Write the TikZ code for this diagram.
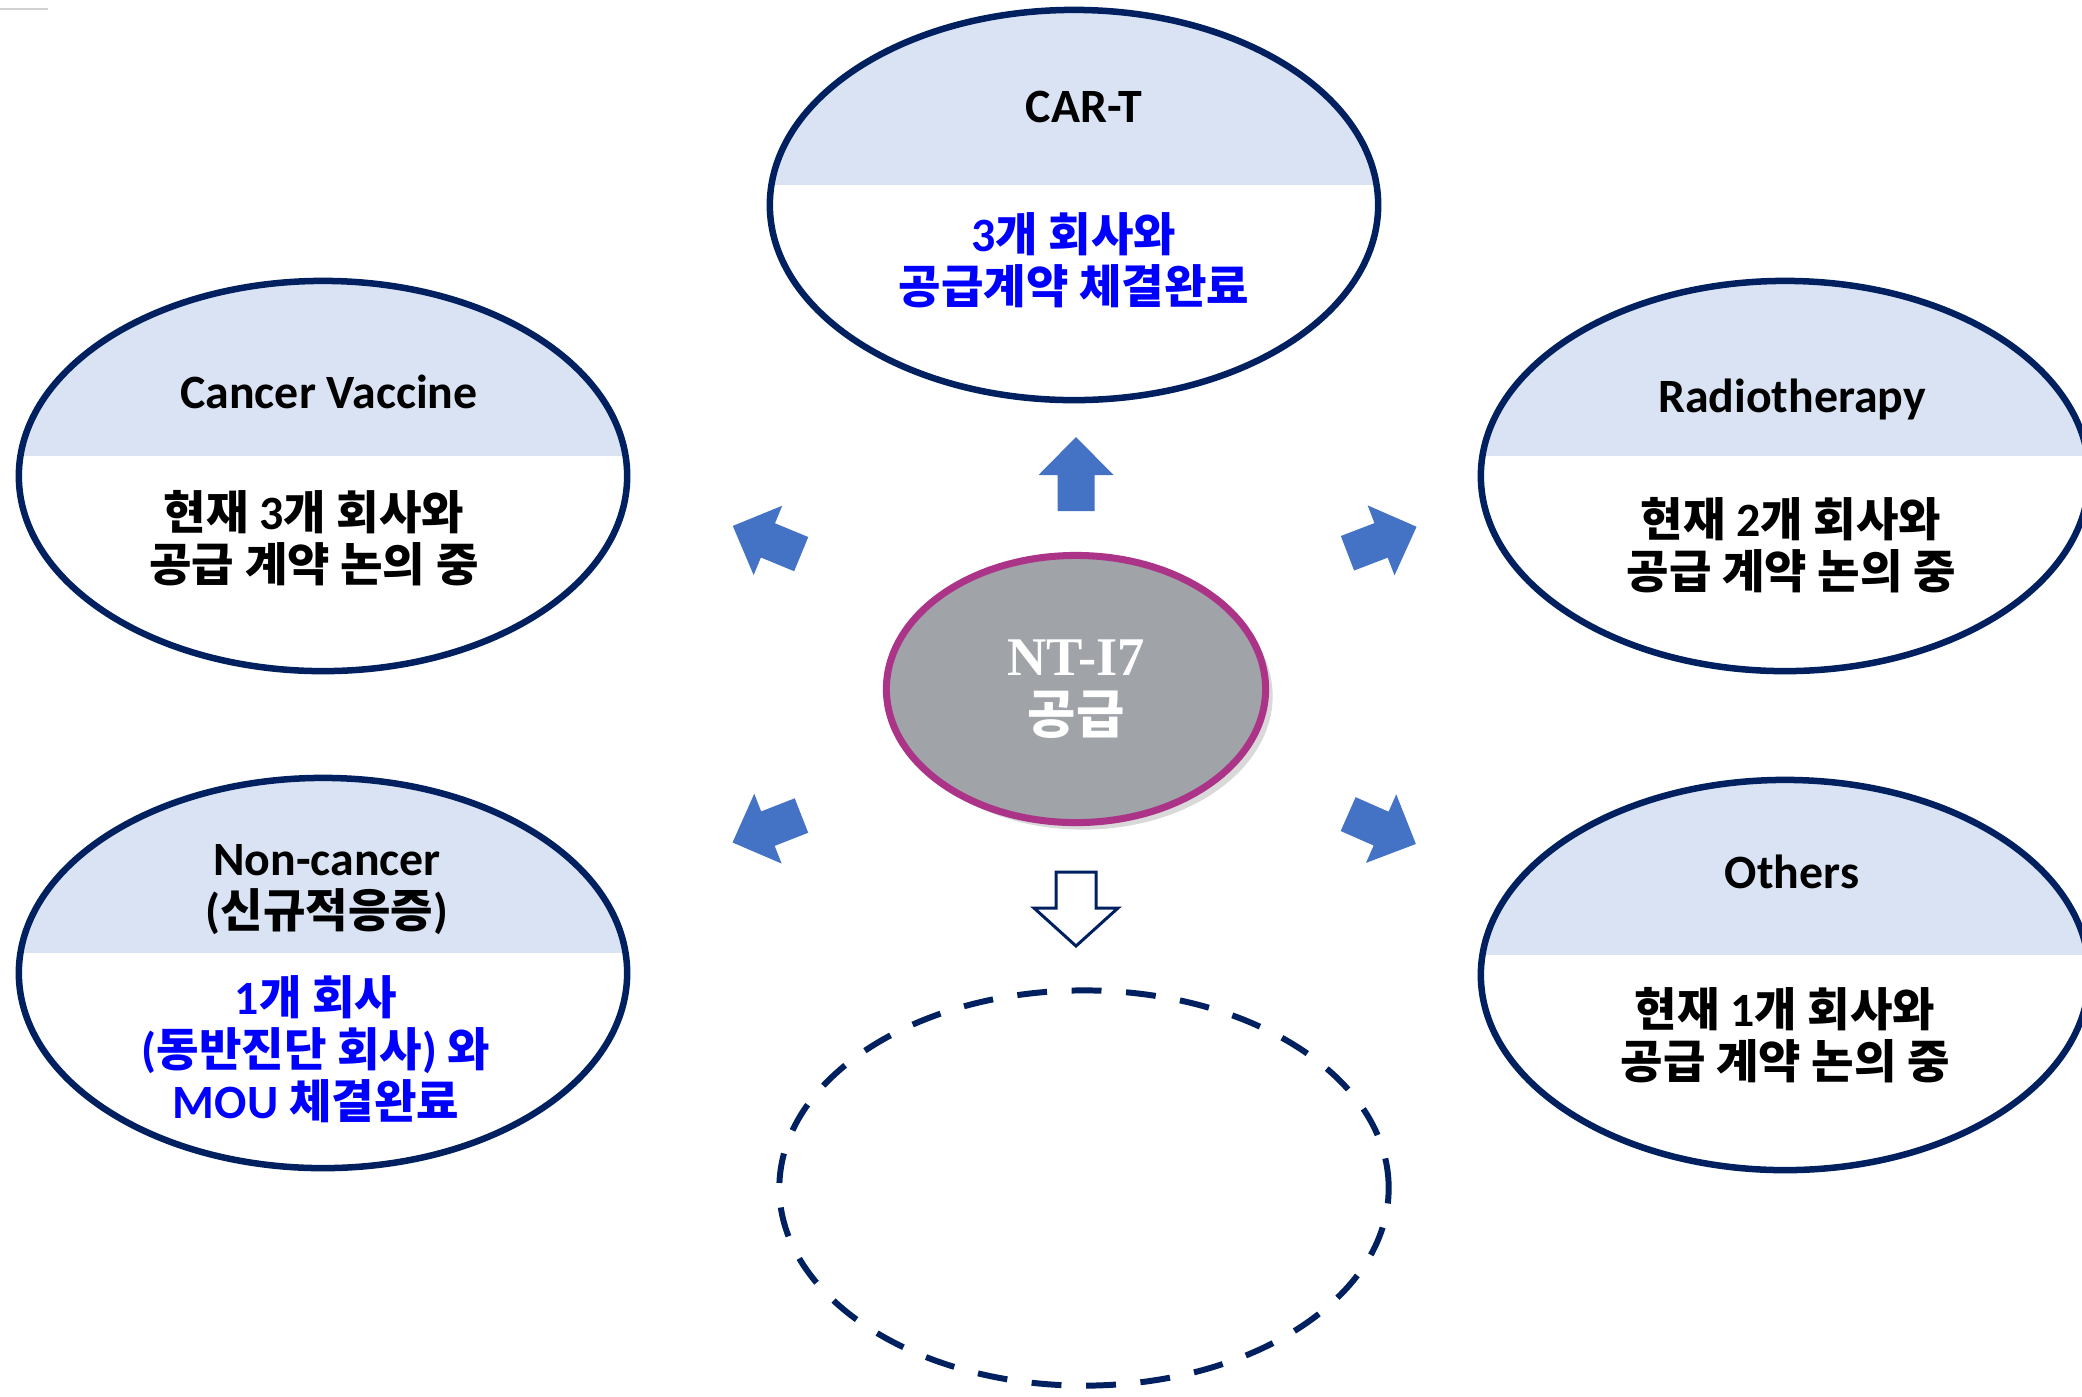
\documentclass[tikz,border=0pt]{standalone}
\usepackage{fontspec}
\setmainfont{Carlito}
\newfontfamily\kr{Noto Sans CJK KR}[Scale=0.965]
\newfontfamily\serifbold{Liberation Serif}
\usepackage{tikz}
\usetikzlibrary{calc, shapes.geometric, shadows}
\definecolor{navy}{RGB}{0,32,96}
\definecolor{bandblue}{RGB}{218,227,243}
\definecolor{arrowblue}{RGB}{68,114,196}
\definecolor{hubgray}{RGB}{160,163,168}
\definecolor{hubrim}{RGB}{171,52,136}
\definecolor{textblue}{RGB}{0,0,255}

\begin{document}
\begin{tikzpicture}[x=0.01cm, y=-0.01cm,
	field/.style={ellipse, draw=navy, line width=1.85pt, fill=white, inner sep=0pt,
		minimum width=6.08cm, minimum height=3.9cm,
		path picture={\fill[bandblue] (path picture bounding box.north west) rectangle ([yshift=0.2cm]path picture bounding box.east);}},
	label text/.style={font=\fontsize{13.6}{14.8}\selectfont\bfseries, align=center, inner sep=0pt},
	hub/.style={ellipse, draw=hubrim, line width=2pt, fill=hubgray, inner sep=0pt,
		minimum width=3.79cm, minimum height=2.67cm,
		drop shadow={shadow xshift=2pt, shadow yshift=-2pt, opacity=0.3}},
	]
	% canvas
	\useasboundingbox (0,0) rectangle (2082,1396);
	\clip (0,0) rectangle (2082,1396);
	\draw[gray!35, line width=0.6pt] (0,9) -- (48,9);
	
	% FIELD ELLIPSES
	\node[field] (cart) at (1074,205) {};
	\node[field] (vaccine) at (323,476) {};
	\node[field] (radio) at (1785,476) {};
	\node[field] (noncancer) at (323,973) {};
	\node[field] (others) at (1785,975) {};
	
	% TITLES
	\node[label text] (cart-title) at ($(cart)+(10,-98)$) {CAR-T};
	\node[label text] (vaccine-title) at ($(vaccine)+(6,-84)$) {Cancer Vaccine};
	\node[label text] (radio-title) at ($(radio)+(7,-77)$) {Radiotherapy};
	\node[label text] (noncancer-title) at ($(noncancer)+(4,-83)$) {Non-cancer\\({\kr 신규적응증})};
	\node[label text] (others-title) at ($(others)+(7,-103)$) {Others};
	
	% STATUS TEXTS
	\node[label text, textblue] (cart-status) at ($(cart)+(0,55)$) {3{\kr 개 회사와}\\{\kr 공급계약 체결완료}};
	\node[label text] (vaccine-status) at ($(vaccine)+(-9,62)$) {{\kr 현재} 3{\kr 개 회사와}\\{\kr 공급 계약 논의 중}};
	\node[label text] (radio-status) at ($(radio)+(6,69)$) {{\kr 현재} 2{\kr 개 회사와}\\{\kr 공급 계약 논의 중}};
	\node[label text, textblue] (noncancer-status) at ($(noncancer)+(-7,76)$) {1{\kr 개 회사}\\({\kr 동반진단 회사}) {\kr 와}\\MOU {\kr 체결완료}};
	\node[label text] (others-status) at ($(others)+(0,60)$) {{\kr 현재} 1{\kr 개 회사와}\\{\kr 공급 계약 논의 중}};
	
	% NT-I7 HUB
	\node[hub, text=white, font=\fontsize{15.5}{16.4}\selectfont\bfseries, align=center] (hub) at (1076,689) {{\serifbold NT-I7}\\{\kr 공급}};
	
	% BLUE BLOCK ARROWS
	\foreach \ax/\ay/\rot in {1076/474/90, 767/540/157.6, 1382/540/21, 767/829/201.4, 1382/829/-23.8}
		\fill[arrowblue, shift={(\ax,\ay)}, rotate=\rot] (-37,-18.5) -- (-1,-18.5) -- (-1,-37.5) -- (37,0) -- (-1,37.5) -- (-1,18.5) -- (-37,18.5) -- cycle;
	
	% HOLLOW ARROW AND FUTURE FIELD
	\draw[navy, line width=0.85pt, fill=white] (1056,872) -- (1096,872) -- (1096,908) -- (1118,908) -- (1076,946) -- (1034,908) -- (1056,908) -- cycle;
	\node[ellipse, draw=navy, line width=1.7pt, dash pattern=on 8.5pt off 7pt, inner sep=0pt,
		minimum width=6.09cm, minimum height=3.95cm] (future) at (1084,1188) {};
\end{tikzpicture}
\end{document}
